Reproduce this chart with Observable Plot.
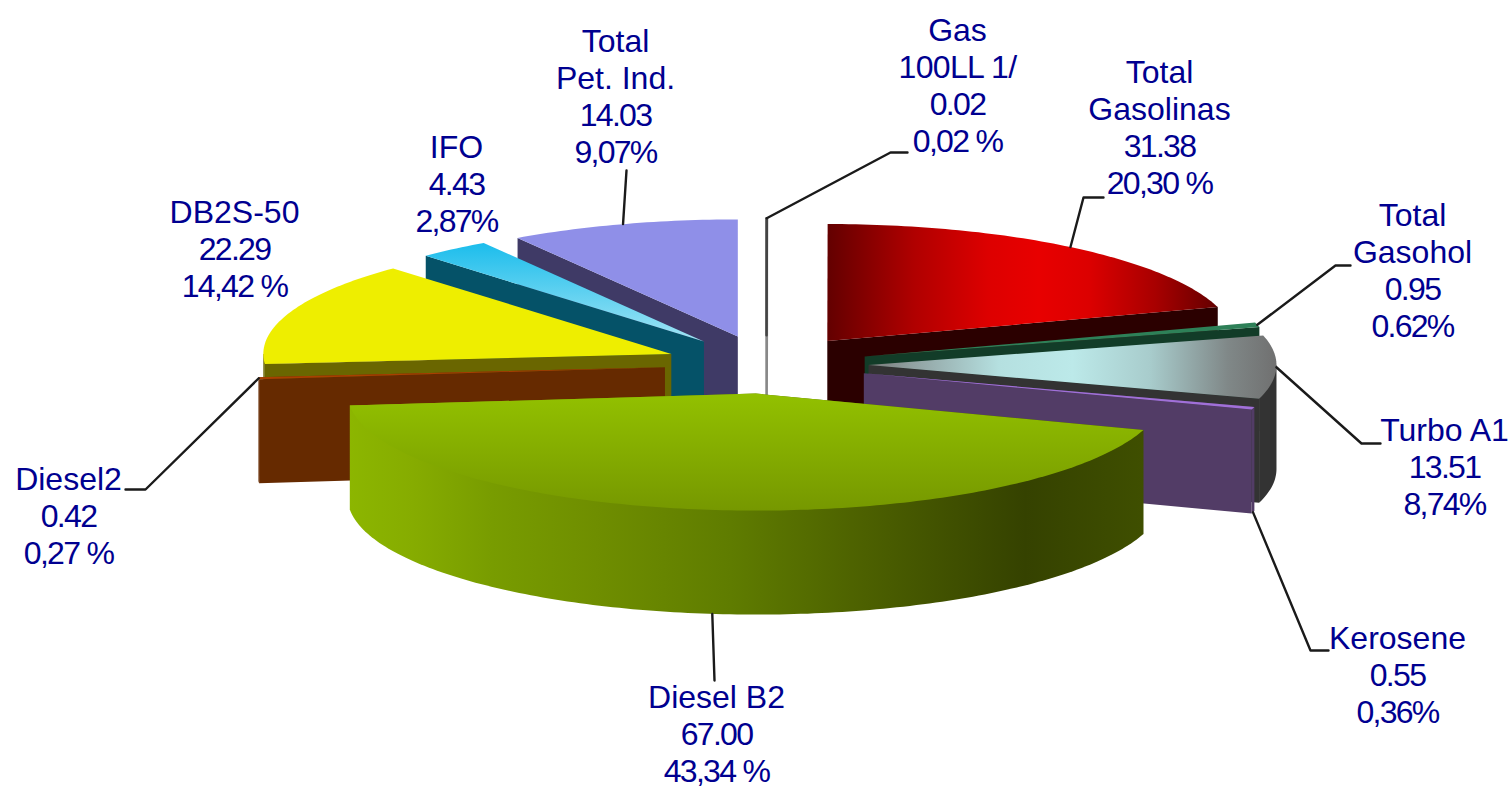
<!DOCTYPE html>
<html>
<head>
<meta charset="utf-8">
<script src="https://cdn.jsdelivr.net/npm/d3@7"></script>
<script src="https://cdn.jsdelivr.net/npm/@observablehq/plot@0.6"></script>
<style>
html,body{margin:0;padding:0;background:#fff;overflow:hidden}
svg{display:block}
</style>
</head>
<body>
<div id="chart"></div>
<script>
// ---- data, clockwise from twelve o'clock ----
const nameLines = [["Gas","100LL 1/"],["Total","Gasolinas"],["Total","Gasohol"],["Turbo A1"],["Kerosene"],["Diesel B2"],["Diesel2"],["DB2S-50"],["IFO"],["Total","Pet. Ind."]];
const values = [0.02,31.38,0.95,13.51,0.55,67.00,0.42,22.29,4.43,14.03];
const percentLabels = ["0,02 %","20,30 %","0.62%","8,74%","0,36%","43,34 %","0,27 %","14,42 %","2,87%","9,07%"];

// ---- styles ----
const topFills = ["#ffffff","url(#gGasolinas)","#2e8058","url(#gTurbo)","#a070d8","url(#gDieselTop)","#a84000","#eeee00","url(#gIfo)","#8f8fe8"];
const wallFills = ["#ffffff","#2b0000","#123c28","#333333","#523c66","#3d4c00","#662a00","#6a6600","#055268","#3f3a66"];
const sideFills = ["#ffffff","#2b0000","#123c28","#333333","#523c66","url(#gDieselSide)","#662a00","#6a6600","#055268","#3f3a66"];
const topStrokes = ["#444444","none","none","none","none","none","none","none","none","none"];
const wallStrokes = ["#888888","none","none","none","none","none","none","none","none","none"];
const paintOrder = [9,8,7,6,0,1,2,3,4,5];
const gradients = {
  gGasolinas:{axis:"x",from:828,to:1217,stops:[[0,"#640000"],[.22,"#b00000"],[.41,"#dd0000"],[.54,"#e80000"],[.67,"#dc0000"],[.84,"#a80000"],[1,"#640000"]]},
  gTurbo:{axis:"x",from:868,to:1276,stops:[[0,"#777777"],[.1,"#8f9f9f"],[.32,"#b5e0e0"],[.5,"#bce9e9"],[.69,"#a8cccc"],[.88,"#808888"],[1,"#707070"]]},
  gDieselTop:{axis:"y",from:395,to:510,stops:[[0,"#92c000"],[1,"#769800"]]},
  gDieselSide:{axis:"x",from:349,to:1144,stops:[[0,"#8cb600"],[.08,"#86ac00"],[.18,"#789c00"],[.31,"#6f8e00"],[.48,"#5f7c00"],[.65,"#4c6000"],[.85,"#354200"],[1,"#3f4f00"]]},
  gIfo:{axis:"y",from:240,to:340,stops:[[0,"#18bcec"],[1,"#a0e4f4"]]}
};

// ---- pie geometry ----
const center = {x:766,y:364};
const radii = {x:408,y:117};
const depth = 104;
const explode = 0.25;
const total = d3.sum(values);

// ---- label layout: centre x and first line y, leader elbow ----
const labelCx = [957,1159,1412,1444,1397,716,68,234,456,615];
const labelTop = [30,72,215,430,638,697,479,212,147,41];
const lineStep = 37.2;
const leaderBends = [[[890,152],[907,152]],[[1083,197],[1103,197]],[[1335,265],[1350,265]],[[1361,443],[1380,443]],[[1310,650],[1328,650]],[[714,680]],[[145,489],[125,489]],null,null,[[626,170]]];
const leaderFromBase = [false,false,false,false,true,true,false,false,false,false];

// ---- derived wedges ----
const rad = d => d*Math.PI/180;
const pt = (c,a,h=0) => ({x:c.x+radii.x*Math.sin(rad(a)), y:c.y-radii.y*Math.cos(rad(a))+h});
let acc = 0;
const wedges = values.map((v,i) => {
  const a0 = acc/total*360; acc += v; const a1 = acc/total*360; const mid = (a0+a1)/2;
  const apex = {x:center.x+explode*radii.x*Math.sin(rad(mid)), y:center.y-explode*radii.y*Math.cos(rad(mid))};
  return {i,a0,a1,mid,apex};
});
const arcAngles = (a,b) => { const n=Math.max(2,Math.ceil((b-a)/1)); return d3.range(n+1).map(k=>a+(b-a)*k/n); };

const shape = (pts,fill,stroke,w) => Plot.line(pts,{x:"x",y:"y",fill,stroke,strokeWidth:w,curve:"linear"});

const marks = [];
marks.push(() => {
  const defs = d3.create("svg:defs");
  for (const [id,g] of Object.entries(gradients)) {
    const lg = defs.append("linearGradient").attr("id",id).attr("gradientUnits","userSpaceOnUse")
      .attr("x1",g.axis==="x"?g.from:0).attr("x2",g.axis==="x"?g.to:0)
      .attr("y1",g.axis==="y"?g.from:0).attr("y2",g.axis==="y"?g.to:0);
    for (const [o,c] of g.stops) lg.append("stop").attr("offset",o).attr("stop-color",c);
  }
  return defs.node();
});

for (const idx of paintOrder) {
  const w = wedges[idx];
  const ws = wallStrokes[idx], sw = ws==="none"?0:2.5;
  const wall = a => {
    const o = pt(w.apex,a);
    return [{x:w.apex.x,y:w.apex.y},o,{x:o.x,y:o.y+depth},{x:w.apex.x,y:w.apex.y+depth},{x:w.apex.x,y:w.apex.y}];
  };
  if (w.a0>180 && w.a0<360) marks.push(shape(wall(w.a0),wallFills[idx],ws,sw));
  if (w.a1>0 && w.a1<180) marks.push(shape(wall(w.a1),wallFills[idx],ws,sw));
  const s0 = Math.max(w.a0,90), s1 = Math.min(w.a1,270);
  if (s1>s0) {
    const as = arcAngles(s0,s1);
    // the side runs up under the top face so that no seam shows along the rim
    marks.push(shape([pt(w.apex,s0),...as.map(a=>pt(w.apex,a,depth)),pt(w.apex,s1),w.apex],sideFills[idx],"none",0));
  }
  const ts = topStrokes[idx];
  marks.push(shape([w.apex,...arcAngles(w.a0,w.a1).map(a=>pt(w.apex,a)),w.apex],topFills[idx],ts,ts==="none"?0:2.5));
}

// leaders
const leaders = [];
wedges.forEach((w,i) => {
  if (!leaderBends[i]) return;
  const s = pt(w.apex,w.mid,leaderFromBase[i]?depth:0);
  leaders.push({i,x:s.x,y:s.y});
  leaderBends[i].forEach(([x,y]) => leaders.push({i,x,y}));
});
marks.push(Plot.line(leaders,{x:"x",y:"y",z:"i",stroke:"#1a1a1a",strokeWidth:2.4,curve:"linear"}));

// labels
const labelRows = [];
wedges.forEach((w,i) => {
  const lines = [...nameLines[i],values[i].toFixed(2),percentLabels[i]];
  lines.forEach((t,k) => labelRows.push({t,x:labelCx[i],y:labelTop[i]+k*lineStep}));
});
marks.push(Plot.text(labelRows,{x:"x",y:"y",text:"t",fill:"#000090",fontSize:32,fontFamily:"'Liberation Sans',Arial,sans-serif",textAnchor:"middle",lineAnchor:"middle"}));

const chart = Plot.plot({
  width:1512,height:790,margin:0,
  style:{background:"#fff"},
  x:{domain:[0,1512],range:[0,1512],axis:null},
  y:{domain:[0,790],range:[0,790],axis:null},
  marks
});
d3.select(chart).selectAll("text").each(function(){
  const t = this.textContent;
  if (/^[\d.,% ]+$/.test(t)) this.style.letterSpacing = "-1.7px";
  else if (t === "100LL 1/") this.style.letterSpacing = "-0.7px";
});
document.getElementById("chart").append(chart);
</script>
</body>
</html>
